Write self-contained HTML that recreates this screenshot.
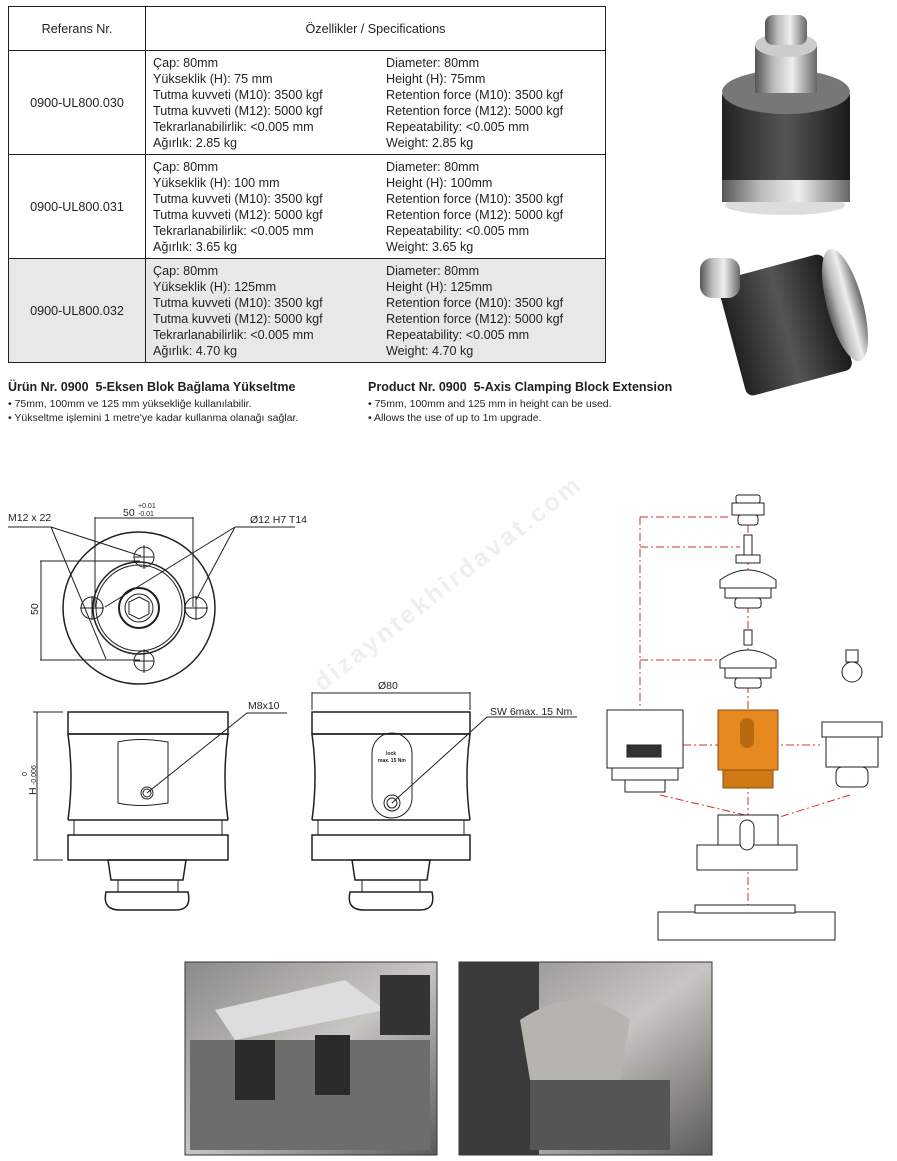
<!DOCTYPE html>
<html><head><meta charset="utf-8"><style>
body{margin:0;width:897px;height:1161px;background:#fff;font-family:"Liberation Sans",Arial,sans-serif;color:#231f20;position:relative;overflow:hidden}
.a{position:absolute}
table{position:absolute;left:8px;top:6px;border-collapse:collapse;font-size:12.6px;line-height:16px;table-layout:fixed;width:597px}
td{border:1px solid #231f20;padding:0;vertical-align:middle;overflow:hidden}
.sp{display:flex;padding-left:7px}
.sp div{width:233px;white-space:nowrap}
.sp div+div{width:210px}
</style></head><body>
<table>
<colgroup><col style="width:137px"><col style="width:460px"></colgroup>
<tr style="height:44px"><td style="text-align:center">Referans Nr.</td><td style="text-align:center">Özellikler / Specifications</td></tr>
<tr style="height:104px"><td style="text-align:center">0900-UL800.030</td><td><div class="sp"><div>Çap: 80mm<br>Yükseklik (H): 75 mm<br>Tutma kuvveti (M10): 3500 kgf<br>Tutma kuvveti (M12): 5000 kgf<br>Tekrarlanabilirlik: &lt;0.005 mm<br>Ağırlık: 2.85 kg</div><div>Diameter: 80mm<br>Height (H): 75mm<br>Retention force (M10): 3500 kgf<br>Retention force (M12): 5000 kgf<br>Repeatability: &lt;0.005 mm<br>Weight: 2.85 kg</div></div></td></tr>
<tr style="height:104px"><td style="text-align:center">0900-UL800.031</td><td><div class="sp"><div>Çap: 80mm<br>Yükseklik (H): 100 mm<br>Tutma kuvveti (M10): 3500 kgf<br>Tutma kuvveti (M12): 5000 kgf<br>Tekrarlanabilirlik: &lt;0.005 mm<br>Ağırlık: 3.65 kg</div><div>Diameter: 80mm<br>Height (H): 100mm<br>Retention force (M10): 3500 kgf<br>Retention force (M12): 5000 kgf<br>Repeatability: &lt;0.005 mm<br>Weight: 3.65 kg</div></div></td></tr>
<tr style="height:104px;background:#e8e8e8"><td style="text-align:center">0900-UL800.032</td><td><div class="sp"><div>Çap: 80mm<br>Yükseklik (H): 125mm<br>Tutma kuvveti (M10): 3500 kgf<br>Tutma kuvveti (M12): 5000 kgf<br>Tekrarlanabilirlik: &lt;0.005 mm<br>Ağırlık: 4.70 kg</div><div>Diameter: 80mm<br>Height (H): 125mm<br>Retention force (M10): 3500 kgf<br>Retention force (M12): 5000 kgf<br>Repeatability: &lt;0.005 mm<br>Weight: 4.70 kg</div></div></td></tr>
</table>

<div class="a" style="left:8px;top:380px;font-size:12.5px;font-weight:bold">Ürün Nr. 0900&nbsp; 5-Eksen Blok Bağlama Yükseltme</div>
<div class="a" style="left:8px;top:397px;font-size:10.5px;line-height:14px">• 75mm, 100mm ve 125 mm yüksekliğe kullanılabilir.<br>• Yükseltme işlemini 1 metre'ye kadar kullanma olanağı sağlar.</div>
<div class="a" style="left:368px;top:380px;font-size:12.5px;font-weight:bold">Product Nr. 0900&nbsp; 5-Axis Clamping Block Extension</div>
<div class="a" style="left:368px;top:397px;font-size:10.5px;line-height:14px">• 75mm, 100mm and 125 mm in height can be used.<br>• Allows the use of up to 1m upgrade.</div>

<svg class="a" style="left:0;top:0" width="897" height="1161" viewBox="0 0 897 1161">
<defs>
<linearGradient id="m" x1="0" x2="1"><stop offset="0" stop-color="#555"/><stop offset=".3" stop-color="#bbb"/><stop offset=".6" stop-color="#eee"/><stop offset="1" stop-color="#666"/></linearGradient>
<linearGradient id="d" x1="0" x2="1"><stop offset="0" stop-color="#222"/><stop offset=".5" stop-color="#555"/><stop offset="1" stop-color="#1a1a1a"/></linearGradient>
<linearGradient id="p" x1="0" y1="0" x2="1" y2="1"><stop offset="0" stop-color="#8a8a88"/><stop offset=".5" stop-color="#c8c6c2"/><stop offset="1" stop-color="#5a5a58"/></linearGradient>
</defs>
<ellipse cx="785" cy="205" rx="60" ry="10" fill="#ddd"/>
<rect x="722" y="90" width="128" height="110" rx="6" fill="url(#d)"/>
<ellipse cx="786" cy="92" rx="64" ry="22" fill="#777"/>
<rect x="722" y="180" width="128" height="22" fill="url(#m)"/>
<rect x="755" y="45" width="62" height="48" fill="url(#m)"/>
<ellipse cx="786" cy="45" rx="31" ry="12" fill="#ccc"/>
<rect x="765" y="15" width="42" height="30" rx="8" fill="url(#m)"/>
<rect x="730" y="265" width="110" height="120" rx="8" fill="url(#d)" transform="rotate(-15 785 325)"/>
<ellipse cx="845" cy="305" rx="18" ry="58" fill="url(#m)" transform="rotate(-15 845 305)"/>
<rect x="700" y="258" width="40" height="40" rx="12" fill="url(#m)"/>
<text x="322" y="692" font-size="25" font-weight="bold" fill="#efefef" textLength="330" transform="rotate(-38 322 692)">dizayntekhirdavat.com</text>

<g fill="none" stroke="#231f20" stroke-width="1">
<circle cx="139" cy="608" r="76" stroke-width="1.5"/>
<circle cx="139" cy="608" r="46" stroke-width="1.5"/><circle cx="139" cy="608" r="43"/>
<circle cx="139" cy="608" r="20" stroke-width="2"/><circle cx="139" cy="608" r="14"/>
<polygon points="139,597 149,602 149,614 139,619 129,614 129,602"/>
<circle cx="144" cy="557" r="10"/><circle cx="144" cy="661" r="10"/><circle cx="92" cy="608" r="11"/><circle cx="196" cy="608" r="11"/>
<path d="M144 545v24M134 557h20M144 649v24M134 661h20M80 608h24M92 596v24M184 608h24M196 596v24"/>
<path d="M95 517v90M193 517v90M95 518h98M40 561h100M40 660h100M41 561v99"/>
<path d="M8 527h43M51 527l90 29M51 527l55 132M235 527h60M235 527l-39 73M235 527l-130 80"/>
<rect x="68" y="712" width="160" height="22" stroke-width="1.5"/>
<path d="M68 734q6 43 0 86M228 734q-6 43 0 86M68 734h160M68 820h160" stroke-width="1.5"/>
<path d="M118 742q20-5 50 0v61q-30 5-50 0z"/>
<circle cx="147" cy="793" r="6"/><circle cx="147" cy="793" r="4"/>
<rect x="74" y="820" width="148" height="15"/><rect x="68" y="835" width="160" height="25" stroke-width="1.5"/>
<path d="M108 860h78l-3 20h-72z" stroke-width="1.5"/><path d="M118 880h60v12h-60z"/>
<path d="M106 892q-4 18 14 18h56q16 0 12-18z" stroke-width="1.5"/>
<path d="M37 712v148M33 712h30M33 860h30M147 793l100-80h40"/>
<rect x="312" y="712" width="158" height="22" stroke-width="1.5"/>
<path d="M312 734q6 43 0 86M470 734q-6 43 0 86M312 734h158M312 820h158" stroke-width="1.5"/>
<rect x="372" y="733" width="40" height="85" rx="20"/>
<circle cx="392" cy="803" r="8"/><circle cx="392" cy="803" r="5"/>
<rect x="318" y="820" width="146" height="15"/><rect x="312" y="835" width="158" height="25" stroke-width="1.5"/>
<path d="M352 860h78l-3 20h-72z" stroke-width="1.5"/><path d="M362 880h58v12h-58z"/>
<path d="M350 892q-4 18 14 18h56q16 0 12-18z" stroke-width="1.5"/>
<path d="M312 692v18M470 692v18M312 693h158M392 803l95-86h90"/>
</g>
<g font-size="10.5" fill="#231f20">
<text x="8" y="521">M12 x 22</text><text x="123" y="516">50</text><text x="138" y="508" font-size="7">+0.01</text><text x="138" y="516" font-size="7">-0.01</text>
<text x="250" y="523">Ø12 H7 T14</text><text x="38" y="615" transform="rotate(-90 38 615)">50</text>
<text x="248" y="709">M8x10</text><text x="378" y="689">Ø80</text><text x="490" y="715">SW 6max. 15 Nm</text>
<text x="36" y="795" transform="rotate(-90 36 795)">H</text><text x="27" y="776" font-size="7" transform="rotate(-90 27 776)">0</text><text x="36" y="785" font-size="7" transform="rotate(-90 36 785)">-0.006</text>
<text x="386" y="755" font-size="5" font-weight="bold">lock</text><text x="378" y="762" font-size="5" font-weight="bold">max. 15 Nm</text>
</g>

<g fill="none" stroke="#d32f2f" stroke-width="1" stroke-dasharray="8 3 2 3">
<path d="M640 517h90M640 517v190M640 547h100M640 660h90M748 525v380M770 745h50M683 745h35M660 795l85 20M850 795l-80 25"/>
</g>
<g fill="#fff" stroke="#231f20" stroke-width="1">
<rect x="736" y="495" width="24" height="8" rx="2"/><rect x="732" y="503" width="32" height="12"/><rect x="738" y="515" width="20" height="10" rx="3"/>
<rect x="744" y="535" width="8" height="20"/><rect x="736" y="555" width="24" height="8"/><path d="M720 580q28-20 56 0v8h-56z"/><rect x="725" y="588" width="46" height="10"/><rect x="735" y="598" width="26" height="10" rx="3"/>
<rect x="744" y="630" width="8" height="15"/><path d="M720 660q28-20 56 0v8h-56z"/><rect x="725" y="668" width="46" height="10"/><rect x="735" y="678" width="26" height="10" rx="3"/>
<rect x="607" y="710" width="76" height="58"/><rect x="612" y="768" width="66" height="12"/><rect x="625" y="780" width="40" height="12"/><rect x="627" y="745" width="34" height="12" fill="#333"/>
<rect x="822" y="722" width="60" height="15"/><rect x="826" y="737" width="52" height="30"/><rect x="836" y="767" width="32" height="20" rx="6"/>
<rect x="846" y="650" width="12" height="12"/><circle cx="852" cy="672" r="10"/>
<rect x="718" y="815" width="60" height="30"/><rect x="697" y="845" width="100" height="25"/><rect x="740" y="820" width="14" height="30" rx="7"/>
<rect x="658" y="912" width="177" height="28"/><rect x="695" y="905" width="100" height="8"/>
</g>
<rect x="718" y="710" width="60" height="60" fill="#e68a1f" stroke="#8a4c10"/><rect x="723" y="770" width="50" height="18" fill="#d07a15" stroke="#8a4c10"/>
<rect x="740" y="718" width="14" height="30" rx="7" fill="#b86a10"/>

<rect x="185" y="962" width="252" height="193" fill="url(#p)" stroke="#333"/>
<rect x="190" y="1040" width="240" height="110" fill="#6b6e6a"/>
<path d="M215 1010l130 -30 40 30 -150 30z" fill="#ddd"/>
<rect x="235" y="1040" width="40" height="60" fill="#2a2a2a"/><rect x="315" y="1035" width="35" height="60" fill="#2a2a2a"/>
<rect x="380" y="975" width="50" height="60" fill="#333"/>
<rect x="459" y="962" width="253" height="193" fill="url(#p)" stroke="#333"/>
<rect x="459" y="962" width="80" height="193" fill="#3a3a3a"/>
<path d="M520 1020q60-40 110 0l-10 60h-90z" fill="#b6b4ae"/>
<rect x="530" y="1080" width="140" height="70" fill="#555"/>
</svg>
</body></html>
